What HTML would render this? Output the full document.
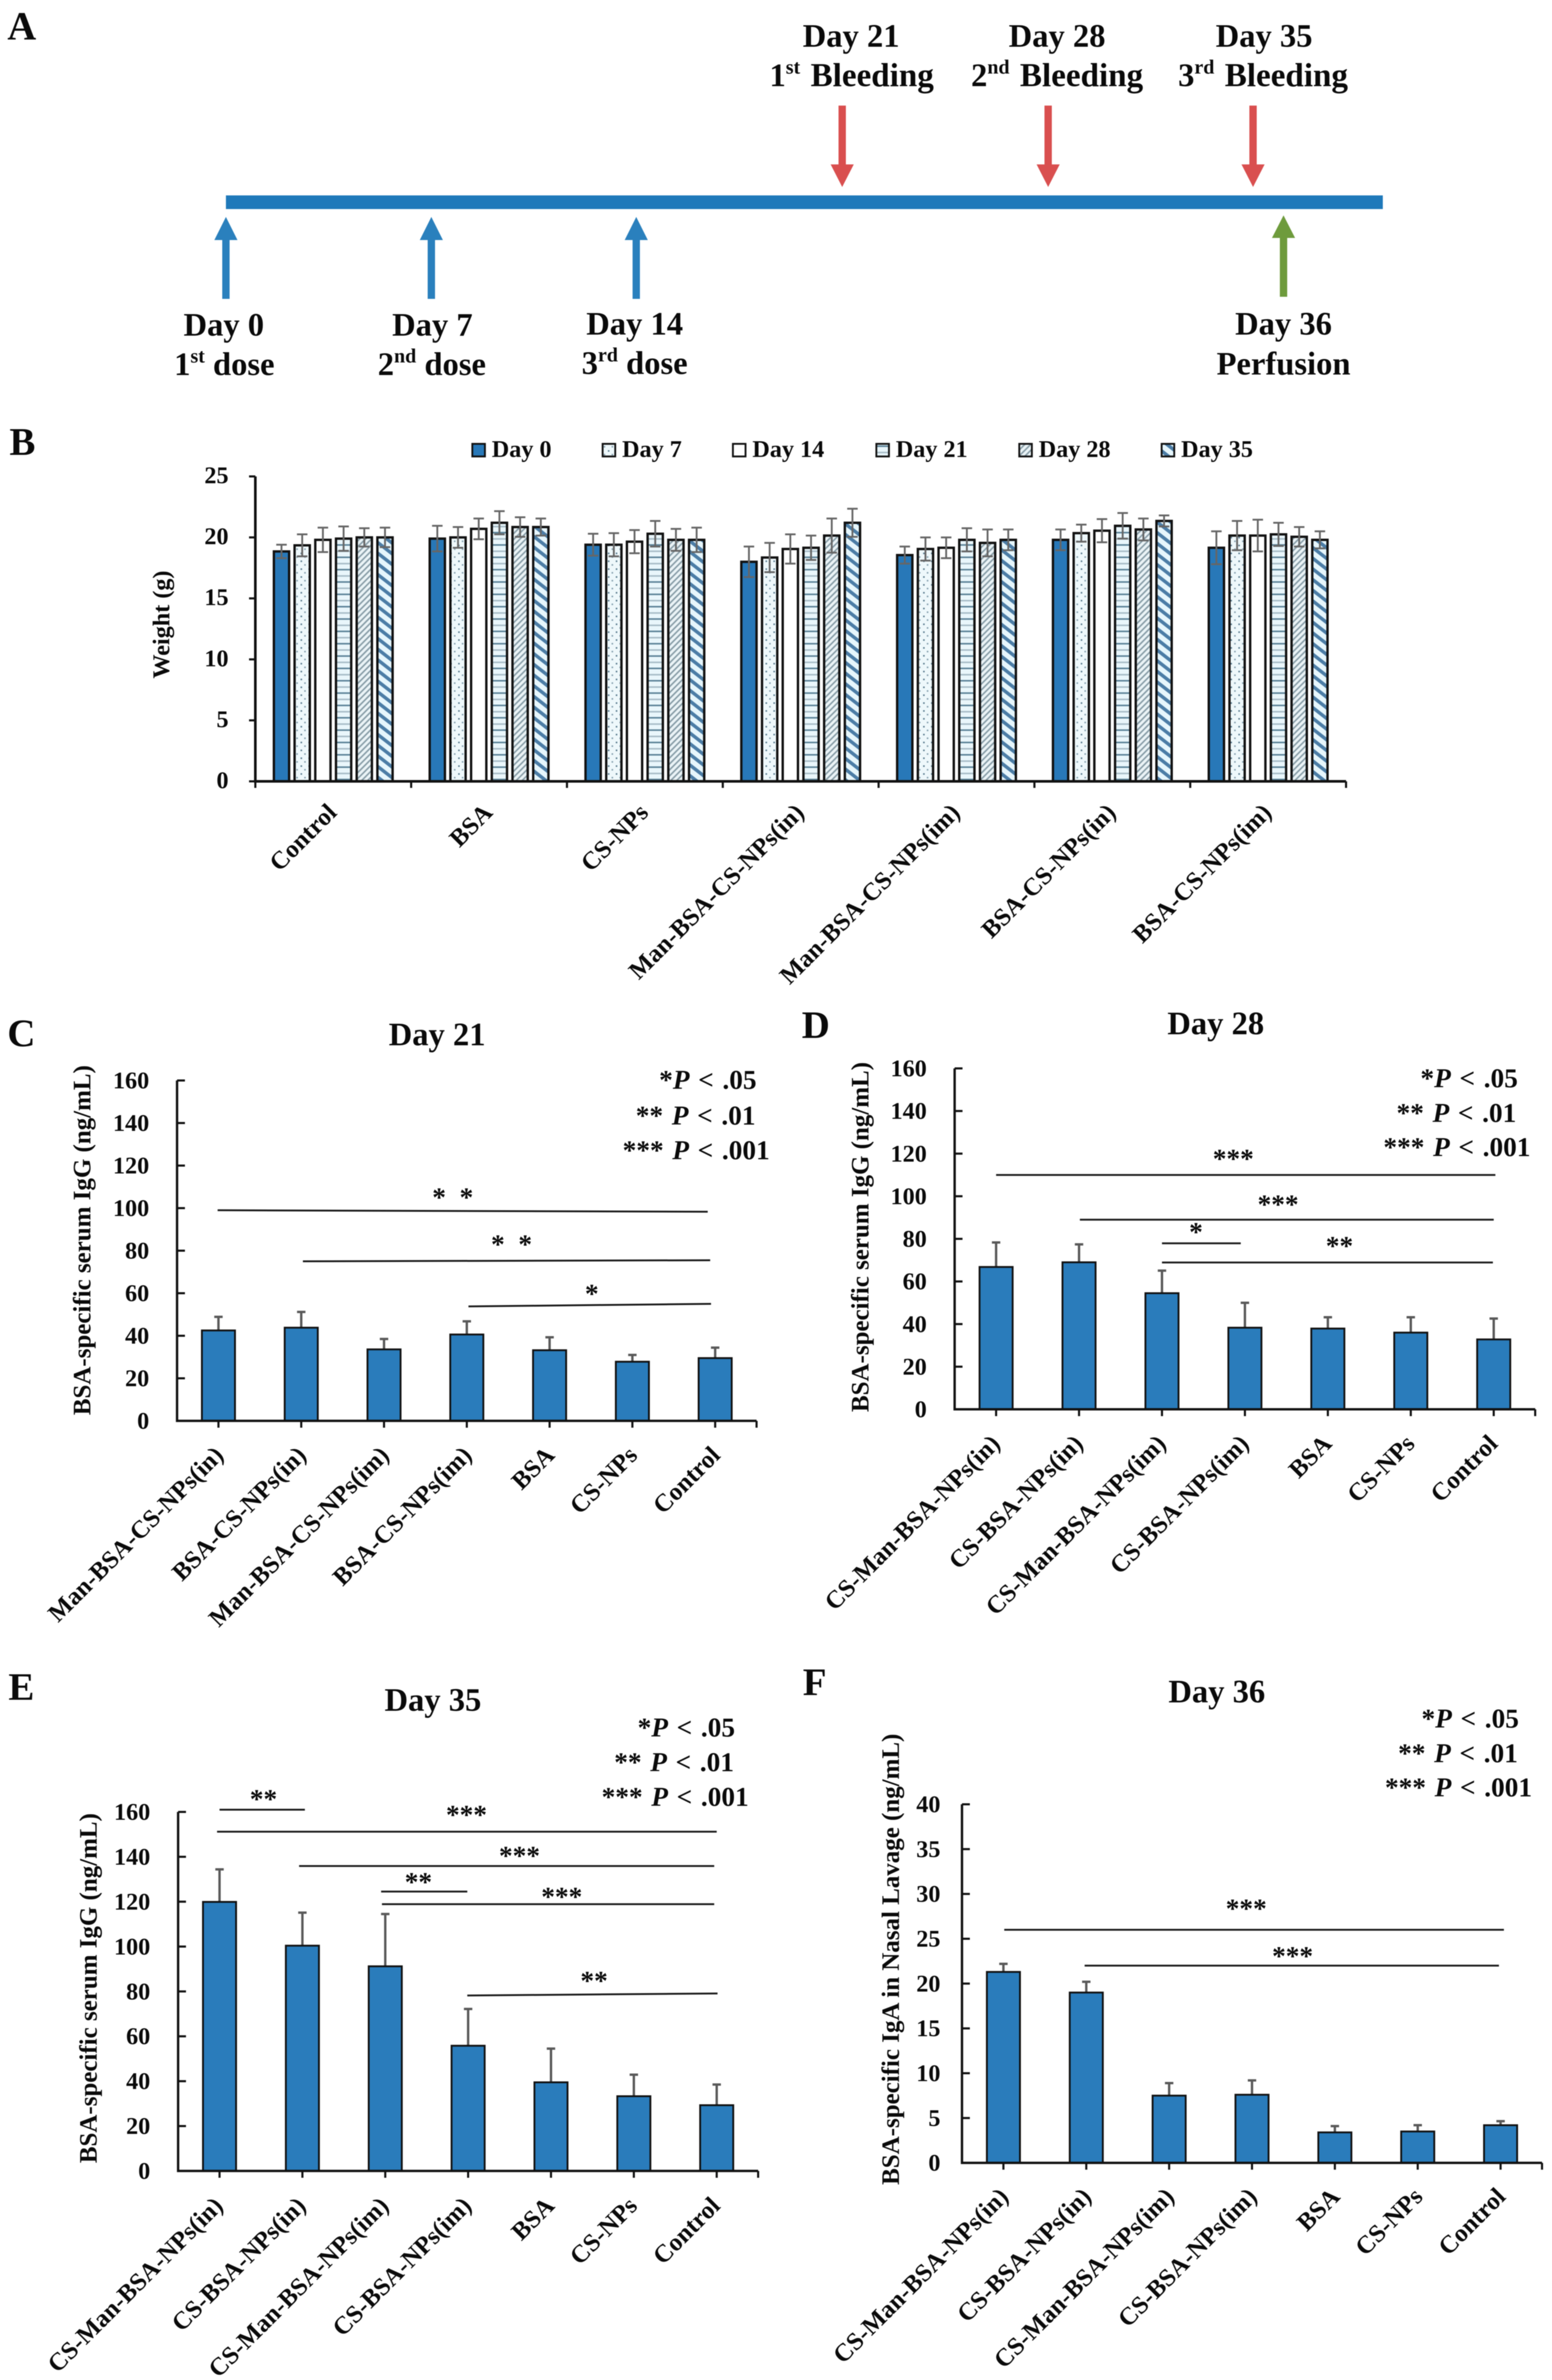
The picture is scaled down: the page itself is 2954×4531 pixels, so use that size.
<!DOCTYPE html>
<html lang="en">
<head>
<meta charset="utf-8">
<title>Immunisation timeline, body weight and antibody titres</title>
<style>
html,body{margin:0;padding:0;background:#fff;}
svg{display:block;filter:blur(0.7px);}
text{font-family:"Liberation Serif","Times New Roman",serif;font-weight:bold;fill:#0a0a0a;white-space:pre;}
</style>
</head>
<body>
<svg id="figure" xmlns="http://www.w3.org/2000/svg" width="2954" height="4531" viewBox="0 0 2954 4531">
<defs>
<pattern id="pat-dots" width="15" height="15" patternUnits="userSpaceOnUse">
<rect width="15" height="15" fill="#eef8fb"/>
<rect x="2" y="2" width="3" height="3" fill="#5f7f92"/>
<rect x="9" y="9" width="3" height="3" fill="#8aa4b2"/>
</pattern>
<pattern id="pat-hlines" width="12" height="23.5" patternUnits="userSpaceOnUse">
<rect width="12" height="23.5" fill="#e9f6fb"/>
<rect y="2" width="12" height="3" fill="#5d8499"/>
<rect y="14" width="12" height="3" fill="#a9bec8"/>
</pattern>
<pattern id="pat-hatch" width="8" height="8" patternUnits="userSpaceOnUse" patternTransform="rotate(45)">
<rect width="8" height="8" fill="#eaf3f6"/>
<rect width="3" height="8" fill="#8a9fa9"/>
</pattern>
<pattern id="pat-stripes" width="16" height="16" patternUnits="userSpaceOnUse" patternTransform="rotate(38)">
<rect width="16" height="16" fill="#e6f6fc"/>
<rect width="16" height="6.5" fill="#4c7da6"/>
</pattern>
</defs>

<g id="panel-a">
<text x="14" y="75" font-size="76">A</text>
<rect x="430" y="372" width="2202" height="26" fill="#1f79ba"/>

<g><rect x="423" y="455" width="14" height="114" fill="#2a80bd"/><polygon points="430,413 408,457 452,457" fill="#2a80bd"/></g>
<g><rect x="814" y="455" width="14" height="114" fill="#2a80bd"/><polygon points="821,413 799,457 843,457" fill="#2a80bd"/></g>
<g><rect x="1204" y="455" width="14" height="114" fill="#2a80bd"/><polygon points="1211,413 1189,457 1233,457" fill="#2a80bd"/></g>
<g><rect x="2436" y="451" width="14" height="114" fill="#6e9b3c"/><polygon points="2443,410 2421,453 2465,453" fill="#6e9b3c"/></g>
<g><rect x="1596" y="201" width="14" height="114" fill="#d94f4f"/><polygon points="1603,356 1581,313 1625,313" fill="#d94f4f"/></g>
<g><rect x="1988" y="201" width="14" height="114" fill="#d94f4f"/><polygon points="1995,356 1973,313 2017,313" fill="#d94f4f"/></g>
<g><rect x="2378" y="201" width="14" height="114" fill="#d94f4f"/><polygon points="2385,356 2363,313 2407,313" fill="#d94f4f"/></g>

<g font-size="62" text-anchor="middle">
<text x="1620" y="89">Day 21</text>
<text x="1621" y="164" word-spacing="4">1<tspan font-size="38" dy="-24">st</tspan><tspan dy="24" font-size="63"> Bleeding</tspan></text>
<text x="2012" y="89">Day 28</text>
<text x="2012" y="164" word-spacing="4">2<tspan font-size="38" dy="-24">nd</tspan><tspan dy="24" font-size="63"> Bleeding</tspan></text>
<text x="2406" y="89">Day 35</text>
<text x="2404" y="164" word-spacing="4">3<tspan font-size="38" dy="-24">rd</tspan><tspan dy="24" font-size="63"> Bleeding</tspan></text>
<text x="426" y="639">Day 0</text>
<text x="427" y="714">1<tspan font-size="38" dy="-24">st</tspan><tspan dy="24"> dose</tspan></text>
<text x="823" y="639">Day 7</text>
<text x="822" y="714">2<tspan font-size="38" dy="-24">nd</tspan><tspan dy="24"> dose</tspan></text>
<text x="1208" y="637">Day 14</text>
<text x="1208" y="712">3<tspan font-size="38" dy="-24">rd</tspan><tspan dy="24"> dose</tspan></text>
<text x="2443" y="637">Day 36</text>
<text x="2443" y="713">Perfusion</text>
</g>
</g>

<text x="18" y="866" font-size="74">B</text>
<text x="14" y="1992" font-size="74">C</text>
<text x="1526" y="1976" font-size="74">D</text>
<text x="16" y="3236" font-size="74">E</text>
<text x="1528" y="3227" font-size="74">F</text>
</svg>

<script>
/* ---------- Panel B data ---------- */
const weightCategories = ["Control","BSA","CS-NPs","Man-BSA-CS-NPs(in)","Man-BSA-CS-NPs(im)","BSA-CS-NPs(in)","BSA-CS-NPs(im)"];
const weightSeriesNames = ["Day 0","Day 7","Day 14","Day 21","Day 28","Day 35"];
const weightDay0 = [18.85,19.9,19.4,18,18.55,19.8,19.15];
const weightDay7 = [19.35,20,19.4,18.35,19.05,20.35,20.15];
const weightDay14 = [19.8,20.7,19.65,19.05,19.15,20.55,20.15];
const weightDay21 = [19.9,21.2,20.3,19.15,19.8,20.95,20.25];
const weightDay28 = [20,20.85,19.8,20.15,19.55,20.65,20.05];
const weightDay35 = [20,20.85,19.8,21.2,19.8,21.35,19.8];
const weightErrDay0 = [0.55,1.05,0.9,1.25,0.7,0.85,1.35];
const weightErrDay7 = [0.9,0.85,0.95,1.2,0.95,0.7,1.2];
const weightErrDay14 = [1,0.85,0.95,1.2,0.85,0.95,1.3];
const weightErrDay21 = [1,0.95,1.05,1,0.95,1.05,0.95];
const weightErrDay28 = [0.75,0.8,0.9,1.4,1.1,0.9,0.8];
const weightErrDay35 = [0.8,0.7,1,1.15,0.85,0.45,0.7];
const weightTickLabels = [0,5,10,15,20,25];

/* ---------- Panels C-F data ---------- */
const day21Categories = ["Man-BSA-CS-NPs(in)","BSA-CS-NPs(in)","Man-BSA-CS-NPs(im)","BSA-CS-NPs(im)","BSA","CS-NPs","Control"];
const nasalCategories = ["CS-Man-BSA-NPs(in)","CS-BSA-NPs(in)","CS-Man-BSA-NPs(im)","CS-BSA-NPs(im)","BSA","CS-NPs","Control"];
const serumTickLabels = [0,20,40,60,80,100,120,140,160];
const igaTickLabels = [0,5,10,15,20,25,30,35,40];
const day21Values = [42.5,43.8,33.6,40.6,33.2,27.8,29.5];
const day21Errors = [6.4,7.4,4.9,6.2,6.1,3.2,4.9];
const day28Values = [66.8,69,54.5,38.3,37.9,36,32.8];
const day28Errors = [11.5,8.4,10.6,11.7,5.3,7.2,9.8];
const day35Values = [119.9,100.4,91.2,55.8,39.5,33.3,29.3];
const day35Errors = [14.5,14.7,23.3,16.4,15,9.6,9.2];
const day36Values = [21.3,19,7.5,7.6,3.4,3.5,4.2];
const day36Errors = [0.9,1.2,1.4,1.6,0.7,0.7,0.45];

/* significance: [from category, to category, level at start, level at end, stars, star category, star level] */
const day21Sig = [[-0.01,5.91,99,98.3,"*\u00a0\u00a0*",2.83,106],[1.02,5.94,75,75.5,"*\u00a0\u00a0*",3.54,84],[3.02,5.95,53.8,55,"*",4.51,60.7]];
const day28Sig = [[0,6.02,110,110,"***",2.86,118.6],[1.01,6,89,89,"***",3.4,97.1],[2,2.95,77.9,77.9,"*",2.41,84.2],[2,5.99,68.9,68.9,"**",4.14,77.7]];
const day35Sig = [[0,1.03,161,161,"**",0.53,166.7],[-0.03,6,151.2,151.2,"***",2.98,159.7],[0.96,5.97,135.9,135.9,"***",3.62,141.4],[1.95,2.99,124.5,124.5,"**",2.4,129.7],[1.96,5.97,118.9,118.9,"***",4.13,123.1],[2.99,6.01,78.2,79.1,"**",4.52,85.7]];
const day36Sig = [[0.01,6.04,26,26,"***",2.93,28.6],[0.98,5.98,22,22,"***",3.49,23.3]];

const pLegendLines = [["*","P"," < .05"],["** ","P"," < .01"],["*** ","P"," < .001"]];

/* ---------- Helpers ---------- */
const NS = "http://www.w3.org/2000/svg";
const root = document.getElementById("figure");
function make(tag, geometry, parent) {
  const el = document.createElementNS(NS, tag);
  for (const k in geometry) el.setAttribute(k, geometry[k]);
  parent.appendChild(el);
  return el;
}

/* ---------- Panel B ---------- */
(function drawWeight() {
  const series = [weightDay0,weightDay7,weightDay14,weightDay21,weightDay28,weightDay35];
  const errors = [weightErrDay0,weightErrDay7,weightErrDay14,weightErrDay21,weightErrDay28,weightErrDay35];
  const fills = ["#2878b8","url(#pat-dots)","#ffffff","url(#pat-hlines)","url(#pat-hatch)","url(#pat-stripes)"];
  const left = 486, right = 2562, top = 907, base = 1487.5, yMax = 25;
  const catW = (right - left) / weightCategories.length;
  const y = v => base - v / yMax * (base - top);
  const g = make("g", {}, root);
  
  

  series.forEach((vals, s) => {
    vals.forEach((v, i) => {
      const cx = left + (i + 0.5) * catW + (s - 2.5) * 39.4;
      const bar = make("rect", {x: cx - 14.5, y: y(v), width: 29, height: base - y(v), fill: fills[s], stroke: "#111", "stroke-width": 4.5}, g);
      
      
      const e = errors[s][i];
      const err = make("path", {d: "M"+(cx-10)+" "+y(v+e)+"H"+(cx+10)+"M"+cx+" "+y(v+e)+"V"+y(v-e)+"M"+(cx-10)+" "+y(v-e)+"H"+(cx+10), fill: "none", stroke: "#666", "stroke-width": 3.5}, g);
      
      
    });
  });

  const axis = make("path", {d: "M"+left+" "+top+"V"+base+"H"+right, fill: "none", stroke: "#111", "stroke-width": 5}, g);
  
  

  weightTickLabels.forEach(t => {
    const tick = make("line", {x1: 474, x2: left, y1: y(t), y2: y(t), stroke: "#111", "stroke-width": 4}, g);
    
    
    const lab = make("text", {x: 435, y: y(t) + 13, "font-size": 46, "text-anchor": "end"}, g);
    
    
    lab.textContent = t;
  });
  for (let i = 0; i <= weightCategories.length; i++) {
    const tick = make("line", {x1: left + i * catW, x2: left + i * catW, y1: base, y2: 1500, stroke: "#111", "stroke-width": 4}, g);
    
    
  }
  weightCategories.forEach((c, i) => {
    const x = left + (i + 0.5) * catW + 9, yy = base + 62;
    const lab = make("text", {x: x, y: yy, "font-size": 47.5, "text-anchor": "end", transform: "rotate(-45 "+x+" "+yy+")"}, g);
    
    
    lab.textContent = c;
  });

  const title = make("text", {x: 322, y: 1189, "font-size": 46, "text-anchor": "middle", transform: "rotate(-90 322 1189)"}, g);
  
  
  title.textContent = "Weight (g)";

  const swatchX = [899,1147,1395,1668,1940,2211];
  weightSeriesNames.forEach((n, s) => {
    const sw = make("rect", {x: swatchX[s], y: 845, width: 24, height: 24, fill: fills[s], stroke: "#111", "stroke-width": 3.5}, g);
    
    
    const lab = make("text", {x: swatchX[s] + 37, y: 870, "font-size": 46}, g);
    
    
    lab.textContent = n;
  });
})();

/* ---------- Panels C-F ---------- */
function drawPanel(p) {
  const n = p.categories.length;
  const catW = (p.right - p.left) / n;
  const x = i => p.left + (i + 0.5) * catW;
  const y = v => p.base - v / p.yMax * (p.base - p.top);
  const g = make("g", {}, root);
  
  

  p.values.forEach((v, i) => {
    const err = make("path", {d: "M"+x(i)+" "+y(v)+"V"+y(v + p.errors[i])+"M"+(x(i)-8)+" "+y(v + p.errors[i])+"H"+(x(i)+8), fill: "none", stroke: "#595959", "stroke-width": 4.5}, g);
    
    
    const bar = make("rect", {x: x(i) - 31.5, y: y(v), width: 63, height: p.base - y(v), fill: "#2a7cbb", stroke: "#111", "stroke-width": 3.5}, g);
    
    
  });

  const axis = make("path", {d: "M"+p.left+" "+p.top+"V"+p.base+"H"+p.right, fill: "none", stroke: "#111", "stroke-width": 4.5}, g);
  
  

  p.ticks.forEach(t => {
    const tick = make("line", {x1: p.left, x2: p.left + 15, y1: y(t), y2: y(t), stroke: "#111", "stroke-width": 4}, g);
    
    
    const lab = make("text", {x: p.tickRight, y: y(t) + 15, "font-size": 46, "text-anchor": "end"}, g);
    
    
    lab.textContent = t;
  });

  for (let i = 0; i < n; i++) {
    const tick = make("line", {x1: x(i), x2: x(i), y1: p.base, y2: p.base + 13, stroke: "#111", "stroke-width": 4}, g);
    
    
  }
  const endTick = make("line", {x1: p.right, x2: p.right, y1: p.base, y2: p.base + 13, stroke: "#111", "stroke-width": 4}, g);
  
  

  p.categories.forEach((c, i) => {
    const lx = x(i) + p.labelDx, ly = p.base + p.labelDy;
    const lab = make("text", {x: lx, y: ly, "font-size": 47.5, "text-anchor": "end", transform: "rotate(-45 "+lx+" "+ly+")"}, g);
    
    
    lab.textContent = c;
  });

  const yt = make("text", {x: p.yTitleX, y: p.yTitleY, "font-size": p.yTitleSize, "text-anchor": "middle", transform: "rotate(-90 "+p.yTitleX+" "+p.yTitleY+")"}, g);
  
  
  yt.textContent = p.yTitle;

  const tt = make("text", {x: p.titleX, y: p.titleY, "font-size": 62, "text-anchor": "middle"}, g);
  
  
  tt.textContent = p.title;

  pLegendLines.forEach((parts, k) => {
    const t = make("text", {x: p.pRight[k], y: p.pBase[k], "font-size": 52, "word-spacing": 3.5, "text-anchor": "end"}, g);
    
    
    t.appendChild(document.createTextNode(parts[0]));
    const it = make("tspan", {"font-style": "italic"}, t);
    it.textContent = parts[1];
    t.appendChild(document.createTextNode(parts[2]));
  });

  p.sig.forEach(s => {
    const line = make("line", {x1: x(s[0]), x2: x(s[1]), y1: y(s[2]), y2: y(s[3]), stroke: "#1a1a1a", "stroke-width": 3.5}, g);
    
    
    const star = make("text", {x: x(s[5]), y: y(s[6]) + 21, "font-size": 52, "text-anchor": "middle"}, g);
    
    
    star.textContent = s[4];
  });
}

drawPanel({name:"day-21-chart",categories:day21Categories,values:day21Values,errors:day21Errors,ticks:serumTickLabels,sig:day21Sig,yMax:160,
  left:337,right:1440,top:2057,base:2705,tickRight:284,labelDx:12,labelDy:68,
  yTitle:"BSA-specific serum IgG (ng/mL)",yTitleSize:47.5,yTitleX:172,yTitleY:2361,
  title:"Day 21",titleX:832,titleY:1990,pRight:[1440,1438,1465],pBase:[2073,2141,2207]});

drawPanel({name:"day-28-chart",categories:nasalCategories,values:day28Values,errors:day28Errors,ticks:serumTickLabels,sig:day28Sig,yMax:160,
  left:1817,right:2922,top:2034,base:2683,tickRight:1764,labelDx:10,labelDy:68,
  yTitle:"BSA-specific serum IgG (ng/mL)",yTitleSize:47.5,yTitleX:1653,yTitleY:2355,
  title:"Day 28",titleX:2314,titleY:1969,pRight:[2889,2886,2913],pBase:[2070,2136,2201]});

drawPanel({name:"day-35-chart",categories:nasalCategories,values:day35Values,errors:day35Errors,ticks:serumTickLabels,sig:day35Sig,yMax:160,
  left:339,right:1443,top:3449.5,base:4133,tickRight:286,labelDx:9,labelDy:69,
  yTitle:"BSA-specific serum IgG (ng/mL)",yTitleSize:47.5,yTitleX:184,yTitleY:3785,
  title:"Day 35",titleX:824,titleY:3257,pRight:[1399,1397,1425],pBase:[3306,3372,3438]});

drawPanel({name:"day-36-chart",categories:nasalCategories,values:day36Values,errors:day36Errors,ticks:igaTickLabels,sig:day36Sig,yMax:40,
  left:1831,right:2935,top:3435,base:4117.6,tickRight:1790,labelDx:12,labelDy:67,
  yTitle:"BSA-specific IgA in Nasal Lavage (ng/mL)",yTitleSize:47.5,yTitleX:1711,yTitleY:3730,
  title:"Day 36",titleX:2316,titleY:3241,pRight:[2891,2889,2916],pBase:[3289,3355,3420]});
</script>
</body>
</html>
